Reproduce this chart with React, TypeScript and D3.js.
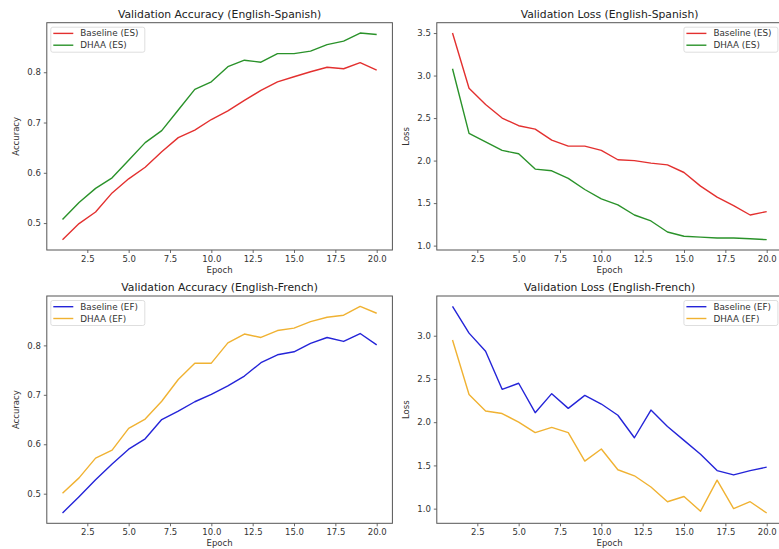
import React, { useEffect, useRef } from "react";
import * as d3 from "d3";

const epochs = d3.range(1, 21);

const baselineAccES = [0.467, 0.499, 0.522, 0.56, 0.588, 0.611, 0.642, 0.67, 0.685, 0.706, 0.723, 0.744, 0.764, 0.781, 0.791, 0.801, 0.81, 0.807, 0.819, 0.804];
const dhaaAccES = [0.507, 0.541, 0.569, 0.59, 0.625, 0.66, 0.684, 0.725, 0.766, 0.781, 0.811, 0.824, 0.82, 0.837, 0.837, 0.842, 0.855, 0.862, 0.878, 0.875];

const baselineLossES = [3.5, 2.85, 2.66, 2.5, 2.41, 2.37, 2.24, 2.17, 2.17, 2.12, 2.01, 2.0, 1.97, 1.95, 1.86, 1.7, 1.57, 1.47, 1.36, 1.4];
const dhaaLossES = [3.08, 2.32, 2.22, 2.12, 2.08, 1.9, 1.88, 1.79, 1.66, 1.55, 1.48, 1.36, 1.29, 1.16, 1.11, 1.1, 1.09, 1.09, 1.08, 1.07];

const baselineAccEF = [0.461, 0.494, 0.528, 0.56, 0.59, 0.611, 0.65, 0.667, 0.686, 0.701, 0.718, 0.738, 0.765, 0.781, 0.787, 0.804, 0.816, 0.808, 0.824, 0.801];
const dhaaAccEF = [0.501, 0.532, 0.572, 0.588, 0.632, 0.651, 0.687, 0.731, 0.764, 0.764, 0.805, 0.823, 0.816, 0.83, 0.835, 0.848, 0.857, 0.861, 0.879, 0.865];

const baselineLossEF = [3.34, 3.03, 2.82, 2.38, 2.45, 2.11, 2.33, 2.16, 2.31, 2.21, 2.08, 1.82, 2.14, 1.95, 1.79, 1.63, 1.44, 1.39, 1.44, 1.48];
const dhaaLossEF = [2.95, 2.32, 2.13, 2.1, 2.0, 1.88, 1.94, 1.88, 1.55, 1.69, 1.45, 1.38, 1.25, 1.08, 1.14, 0.97, 1.33, 1.0, 1.08, 0.95];

const xTicks = [2.5, 5.0, 7.5, 10.0, 12.5, 15.0, 17.5, 20.0];
const accTicks = [0.5, 0.6, 0.7, 0.8];
const lossTicksES = [1.0, 1.5, 2.0, 2.5, 3.0, 3.5];
const lossTicksEF = [1.0, 1.5, 2.0, 2.5, 3.0];

const RED = "#e3302f";
const GREEN = "#2a922a";
const BLUE = "#2424d8";
const ORANGE = "#f0b232";

const panels = [
  { title: "Validation Accuracy (English-Spanish)", ylabel: "Accuracy", yTicks: accTicks, fmt: ".1f", legendRight: false,
    series: [{ name: "Baseline (ES)", values: baselineAccES, color: RED }, { name: "DHAA (ES)", values: dhaaAccES, color: GREEN }],
    box: { x0: 46.8, x1: 392.4, y0: 22.7, y1: 250 } },
  { title: "Validation Loss (English-Spanish)", ylabel: "Loss", yTicks: lossTicksES, fmt: ".1f", legendRight: true,
    series: [{ name: "Baseline (ES)", values: baselineLossES, color: RED }, { name: "DHAA (ES)", values: dhaaLossES, color: GREEN }],
    box: { x0: 436.8, x1: 782.4, y0: 22.7, y1: 250 } },
  { title: "Validation Accuracy (English-French)", ylabel: "Accuracy", yTicks: accTicks, fmt: ".1f", legendRight: false,
    series: [{ name: "Baseline (EF)", values: baselineAccEF, color: BLUE }, { name: "DHAA (EF)", values: dhaaAccEF, color: ORANGE }],
    box: { x0: 46.8, x1: 392.4, y0: 296, y1: 523.3 } },
  { title: "Validation Loss (English-French)", ylabel: "Loss", yTicks: lossTicksEF, fmt: ".1f", legendRight: true,
    series: [{ name: "Baseline (EF)", values: baselineLossEF, color: BLUE }, { name: "DHAA (EF)", values: dhaaLossEF, color: ORANGE }],
    box: { x0: 436.8, x1: 782.4, y0: 296, y1: 523.3 } },
];

const FONT = "DejaVu Sans, sans-serif";

export default function App() {
  const ref = useRef<SVGSVGElement>(null);

  useEffect(() => {
    const svg = d3.select(ref.current);
    svg.selectAll("*").remove();

    panels.forEach((p) => {
      const { x0, x1, y0, y1 } = p.box;
      const x = d3.scaleLinear().domain([1 - 0.95, 20 + 0.95]).range([x0, x1]);
      const all = p.series.flatMap((s) => s.values);
      const lo = d3.min(all)!, hi = d3.max(all)!;
      const pad = (hi - lo) * 0.05;
      const y = d3.scaleLinear().domain([lo - pad, hi + pad]).range([y1, y0]);

      const g = svg.append("g");

      // lines
      const line = d3.line<number>().x((_, i) => x(epochs[i])).y((d) => y(d));
      p.series.forEach((s) => {
        g.append("path").datum(s.values).attr("d", line).attr("fill", "none")
          .attr("stroke", s.color).attr("stroke-width", 1.4).attr("stroke-linejoin", "round");
      });

      // axes
      const xa = g.append("g").attr("transform", `translate(0,${y1})`)
        .call(d3.axisBottom(x).tickValues(xTicks).tickFormat(d3.format(".1f")).tickSize(3).tickPadding(3));
      const ya = g.append("g").attr("transform", `translate(${x0},0)`)
        .call(d3.axisLeft(y).tickValues(p.yTicks).tickFormat(d3.format(p.fmt)).tickSize(3).tickPadding(3));
      [xa, ya].forEach((a) => {
        a.select(".domain").remove();
        a.selectAll("line").attr("stroke", "#444").attr("stroke-width", 0.8);
        a.selectAll("text").attr("font-family", FONT).attr("font-size", 8.5).attr("fill", "#333");
      });

      // frame
      g.append("rect").attr("x", x0).attr("y", y0).attr("width", x1 - x0).attr("height", y1 - y0)
        .attr("fill", "none").attr("stroke", "#555").attr("stroke-width", 1);

      // title and labels
      g.append("text").attr("x", (x0 + x1) / 2).attr("y", y0 - 5).attr("text-anchor", "middle")
        .attr("font-family", FONT).attr("font-size", 10.8).attr("fill", "#222").text(p.title);
      g.append("text").attr("x", (x0 + x1) / 2).attr("y", y1 + 23).attr("text-anchor", "middle")
        .attr("font-family", FONT).attr("font-size", 8.5).attr("fill", "#333").text("Epoch");
      g.append("text").attr("transform", `translate(${x0 - 28},${(y0 + y1) / 2}) rotate(-90)`)
        .attr("text-anchor", "middle").attr("font-family", FONT).attr("font-size", 8.5).attr("fill", "#333")
        .text(p.ylabel);

      // legend
      const lw = 94, lh = 25;
      const lx = p.legendRight ? x1 - 4.5 - lw : x0 + 4;
      const ly = y0 + 4.5;
      const lg = g.append("g").attr("transform", `translate(${lx},${ly})`);
      lg.append("rect").attr("width", lw).attr("height", lh).attr("rx", 2)
        .attr("fill", "white").attr("fill-opacity", 0.8).attr("stroke", "#d6d6d6").attr("stroke-width", 0.8);
      p.series.forEach((s, i) => {
        const cy = 6.2 + i * 11.8;
        lg.append("line").attr("x1", 2.5).attr("x2", 22.5).attr("y1", cy).attr("y2", cy)
          .attr("stroke", s.color).attr("stroke-width", 1.4);
        lg.append("text").attr("x", 29.5).attr("y", cy + 3).attr("font-family", FONT)
          .attr("font-size", 8.8).attr("fill", "#333").text(s.name);
      });
    });
  }, []);

  return (
    <svg ref={ref} width={779} height={549}
      style={{ position: "absolute", left: 0, top: 0, background: "white" }} />
  );
}
